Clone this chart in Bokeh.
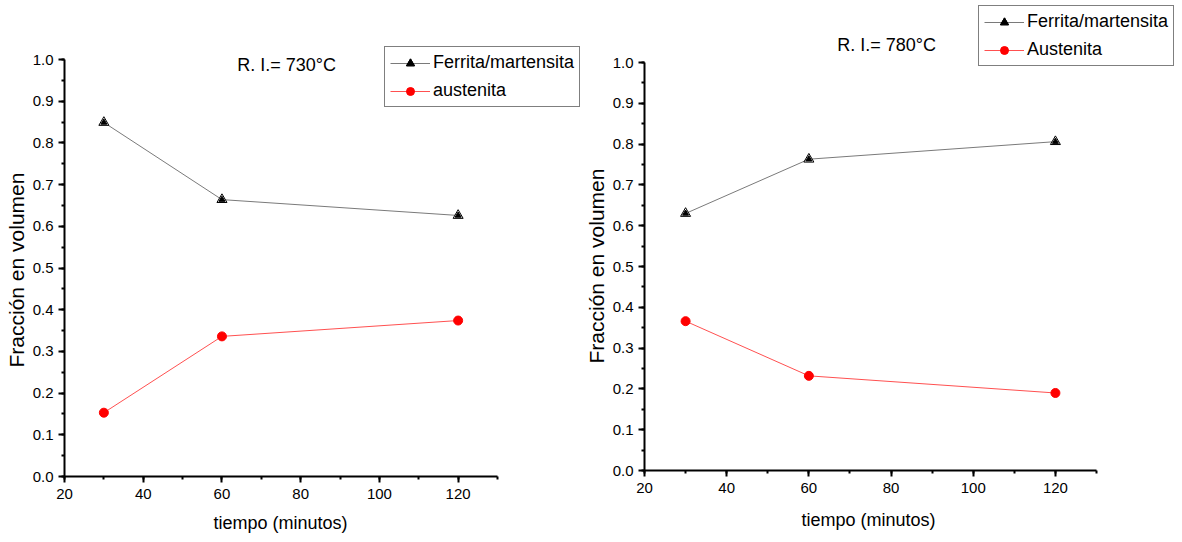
from bokeh.plotting import figure
from bokeh.layouts import row
from bokeh.models import (Range1d, SingleIntervalTicker, NumeralTickFormatter,
                          Legend, LegendItem, Label, Title)
from bokeh.embed import file_html
from bokeh.resources import INLINE

# ---- data ----
tiempo = [30, 60, 120]
ferrita_730 = [0.849, 0.664, 0.626]
austenita_730 = [0.153, 0.336, 0.374]
ferrita_780 = [0.630, 0.763, 0.806]
austenita_780 = [0.366, 0.232, 0.190]
titles = ["R. I.= 730°C", "R. I.= 780°C"]
legend_labels_730 = ["Ferrita/martensita", "austenita"]
legend_labels_780 = ["Ferrita/martensita", "Austenita"]
x_label = "tiempo (minutos)"
y_label = "Fracción en volumen"
x_axis = (20, 130)
y_axis = (0, 1.0)

FONT = "Liberation Sans"


def make_panel(ferr, aus, title, labels, axis_w, axis_h, fw, fh, bl, bb,
               title_pos, legend_loc, xlab_off, ylab_off, xlab_standoff):
    # frame extends beyond the axes (to the right and top) so that the
    # legend and the title may sit outside the axes box without clipping
    x_end = x_axis[0] + (x_axis[1] - x_axis[0]) * fw / axis_w
    y_end = y_axis[0] + (y_axis[1] - y_axis[0]) * fh / axis_h
    p = figure(frame_width=fw, frame_height=fh, output_backend="svg",
               toolbar_location=None, x_range=Range1d(x_axis[0], x_end),
               y_range=Range1d(y_axis[0], y_end),
               min_border_left=bl, min_border_right=0,
               min_border_top=0, min_border_bottom=bb)
    p.xgrid.visible = False
    p.ygrid.visible = False
    p.outline_line_color = None
    p.background_fill_color = "white"
    p.border_fill_color = "white"

    p.xaxis.ticker = SingleIntervalTicker(interval=20, num_minor_ticks=2)
    p.yaxis.ticker = SingleIntervalTicker(interval=0.1, num_minor_ticks=2)
    p.yaxis.formatter = NumeralTickFormatter(format="0.0")
    p.xaxis.bounds = x_axis
    p.yaxis.bounds = y_axis
    for ax in (p.xaxis, p.yaxis):
        ax.axis_line_width = 2
        ax.axis_line_color = "black"
        ax.major_tick_line_width = 2
        ax.minor_tick_line_width = 2
        ax.major_tick_out = 6
        ax.major_tick_in = 0
        ax.minor_tick_out = 3
        ax.minor_tick_in = 0
        ax.major_label_text_font = FONT
        ax.major_label_text_font_size = "15px"
        ax.major_label_text_color = "black"
    p.xaxis.major_label_standoff = 6
    p.yaxis.major_label_standoff = 5

    # axis titles, aligned to the axes box (not the extended frame)
    p.add_layout(Title(text=x_label, align="left", offset=xlab_off,
                       text_font=FONT, text_font_size="18px",
                       text_font_style="normal", text_color="black",
                       standoff=xlab_standoff), "below")
    p.add_layout(Title(text=y_label, align="left", offset=ylab_off,
                       text_font=FONT, text_font_size="21px",
                       text_font_style="normal", text_color="black",
                       standoff=4), "left")

    l1 = p.line(tiempo, ferr, line_color="#7a7a7a", line_width=1)
    s1a = p.scatter(tiempo, ferr, marker="triangle", size=10,
                    fill_color="white", line_color="black", line_width=1)
    s1b = p.scatter(tiempo, ferr, marker="triangle", size=6,
                    fill_color="black", line_color="black")
    l2 = p.line(tiempo, aus, line_color="#ff5050", line_width=1)
    s2 = p.scatter(tiempo, aus, marker="circle", size=9,
                   fill_color="#ff0000", line_color="#ff0000")

    legend = Legend(items=[LegendItem(label=labels[0], renderers=[l1, s1a, s1b]),
                           LegendItem(label=labels[1], renderers=[l2, s2])],
                    location=legend_loc)
    legend.label_text_font = FONT
    legend.label_text_font_size = "18px"
    legend.label_text_color = "black"
    legend.border_line_color = "black"
    legend.border_line_width = 1
    legend.background_fill_alpha = 1
    legend.glyph_width = 40
    legend.glyph_height = 20
    legend.label_height = 20
    legend.label_standoff = 3
    legend.padding = 5
    legend.spacing = 7
    legend.margin = 0
    p.add_layout(legend, "center")

    p.add_layout(Label(x=title_pos[0], y=title_pos[1], text=title,
                       text_font=FONT, text_font_size="18px",
                       text_align="center", text_baseline="middle",
                       text_color="black"))
    return p


p1 = make_panel(ferrita_730, austenita_730, titles[0], legend_labels_730,
                433, 417, 516, 476, 64, 66, (76.4, 0.986), (320, 369), 149, 109, 18)
p2 = make_panel(ferrita_780, austenita_780, titles[1], legend_labels_780,
                452, 408, 538, 470, 64, 72, (78.9, 1.042), (334, 404), 157, 107, 24)

layout = row(p1, p2, spacing=0)
open("out.html", "w").write(file_html(layout, INLINE))
